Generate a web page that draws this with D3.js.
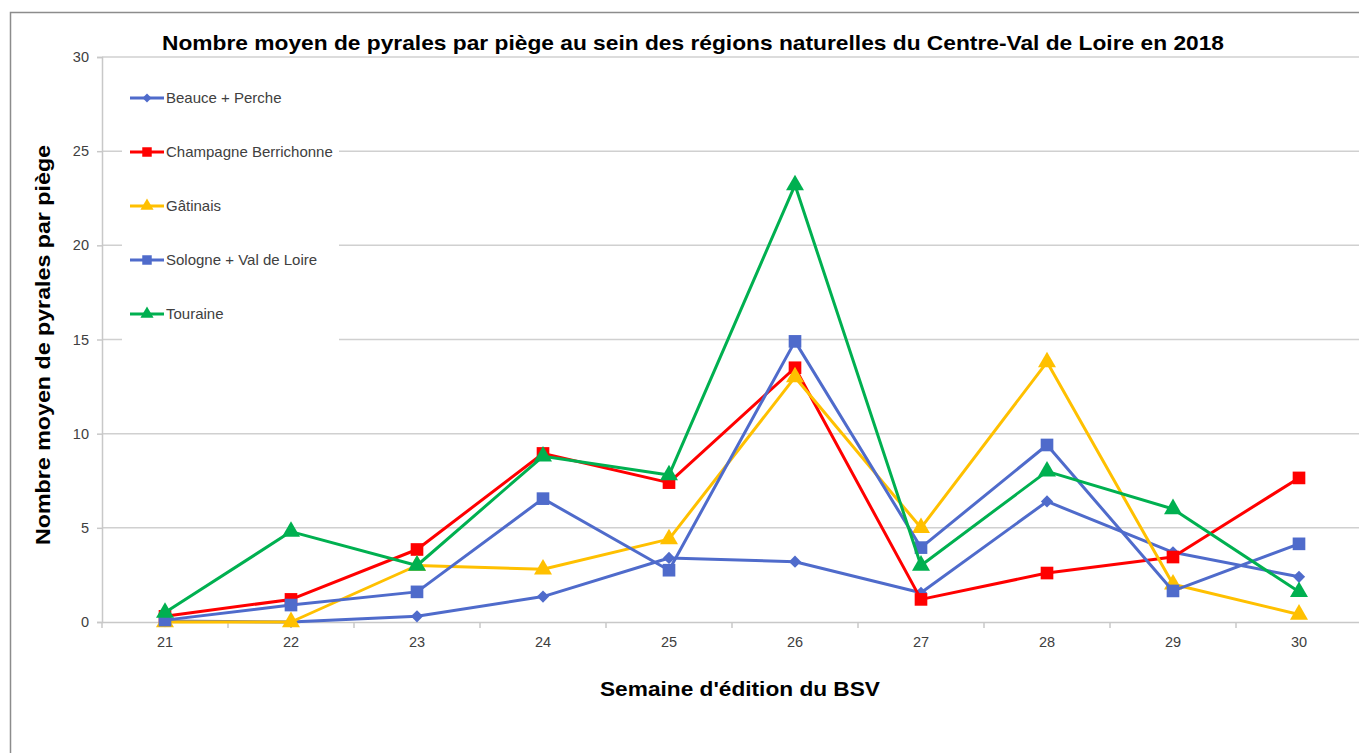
<!DOCTYPE html>
<html>
<head>
<meta charset="utf-8">
<script src="https://cdn.jsdelivr.net/npm/d3@7"></script>
<style>
  html, body { margin: 0; padding: 0; background: #fff; }
  svg { display: block; }
</style>
</head>
<body>
<svg id="chart" width="1359" height="753"></svg>
<script>
const weeks = ["21", "22", "23", "24", "25", "26", "27", "28", "29", "30"];
const beaucePerche = [0.05, 0.0, 0.3, 1.35, 3.4, 3.2, 1.55, 6.4, 3.7, 2.4];
const champagneBerrichonne = [0.3, 1.2, 3.85, 8.95, 7.4, 13.5, 1.2, 2.6, 3.45, 7.65];
const gatinais = [0.0, 0.0, 3.0, 2.8, 4.4, 13.0, 5.0, 13.8, 2.0, 0.4];
const sologneValDeLoire = [0.1, 0.9, 1.6, 6.55, 2.75, 14.9, 3.95, 9.4, 1.65, 4.15];
const touraine = [0.5, 4.8, 3.0, 8.8, 7.8, 23.2, 3.0, 8.0, 6.0, 1.6];
const yTicks = [0, 5, 10, 15, 20, 25, 30];
const seriesNames = ["Beauce + Perche", "Champagne Berrichonne", "Gâtinais", "Sologne + Val de Loire", "Touraine"];

const titleText = "Nombre moyen de pyrales par piège au sein des régions naturelles du Centre-Val de Loire en 2018";
const yLabelText = "Nombre moyen de pyrales par piège";
const xLabelText = "Semaine d'édition du BSV";

(function () {
const series = [
  { name: seriesNames[0], values: beaucePerche, color: "#4F6BCB", symbol: d3.symbolSquare, rot: 45, size: 75, lsize: 40 },
  { name: seriesNames[1], values: champagneBerrichonne, color: "#FF0000", symbol: d3.symbolSquare, rot: 0, size: 160, lsize: 90 },
  { name: seriesNames[2], values: gatinais, color: "#FFC000", symbol: d3.symbolTriangle, rot: 0, size: 140, lsize: 75 },
  { name: seriesNames[3], values: sologneValDeLoire, color: "#4F6BCB", symbol: d3.symbolSquare, rot: 0, size: 160, lsize: 90 },
  { name: seriesNames[4], values: touraine, color: "#00B050", symbol: d3.symbolTriangle, rot: 0, size: 140, lsize: 75 }
];

const svg = d3.select("#chart");
const font = "'Liberation Sans', Arial, sans-serif";

// outer chart border
svg.append("rect")
  .attr("x", 10.5).attr("y", 12.5)
  .attr("width", 1400).attr("height", 800)
  .attr("fill", "#fff")
  .attr("stroke", "#8C8C8C").attr("stroke-width", 1.5);

const pLeft = 102, pRight = 1362, pTop = 57, pBottom = 622;

const x = d3.scaleBand().domain(weeks).range([pLeft, pRight]).paddingInner(0).paddingOuter(0);
const cx = d => x(d) + x.bandwidth() / 2;
const y = d3.scaleLinear().domain([0, 30]).range([pBottom, pTop]);

// gridlines
svg.append("g").selectAll("line")
  .data(yTicks.filter(t => t > 0))
  .join("line")
  .attr("x1", pLeft).attr("x2", pRight)
  .attr("y1", d => y(d)).attr("y2", d => y(d))
  .attr("stroke", "#D0D0D0").attr("stroke-width", 1.5);

// y axis
const yAxis = svg.append("g")
  .attr("transform", `translate(${pLeft},0)`)
  .call(d3.axisLeft(y).tickValues(yTicks).tickSize(5).tickPadding(8));
yAxis.select(".domain").attr("stroke", "#C8C8C8").attr("stroke-width", 1.5);
yAxis.selectAll(".tick line").attr("stroke", "#C8C8C8").attr("stroke-width", 1.5);
yAxis.selectAll(".tick text")
  .attr("font-family", font).attr("font-size", 14.5).attr("fill", "#404040");

// x axis
const xAxis = svg.append("g")
  .attr("transform", `translate(0,${pBottom})`)
  .call(d3.axisBottom(x).tickSize(0).tickPadding(15));
xAxis.select(".domain").attr("stroke", "#C8C8C8").attr("stroke-width", 1.5);
xAxis.selectAll(".tick text")
  .attr("font-family", font).attr("font-size", 14.5).attr("fill", "#404040");
// boundary tick marks
svg.append("g").selectAll("line")
  .data(weeks.map(w => x(w)).concat([pRight]))
  .join("line")
  .attr("x1", d => d).attr("x2", d => d)
  .attr("y1", pBottom).attr("y2", pBottom + 6)
  .attr("stroke", "#C8C8C8").attr("stroke-width", 1.5);

// legend background (covers gridlines)
const legendG = svg.append("g");
legendG.append("rect")
  .attr("x", 122).attr("y", 68).attr("width", 217).attr("height", 276)
  .attr("fill", "#fff");

// series lines and markers
const line = d3.line().x((d, i) => cx(weeks[i])).y(d => y(d));
series.forEach(s => {
  const g = svg.append("g");
  g.append("path")
    .attr("d", line(s.values))
    .attr("fill", "none")
    .attr("stroke", s.color).attr("stroke-width", 3)
    .attr("stroke-linejoin", "round");
  g.selectAll("path.m")
    .data(s.values)
    .join("path")
    .attr("class", "m")
    .attr("transform", (d, i) => `translate(${cx(weeks[i])},${y(d)}) rotate(${s.rot})`)
    .attr("d", d3.symbol().type(s.symbol).size(s.size))
    .attr("fill", s.color);
});

// legend entries
const legendY = [98, 152, 206, 260, 314];
series.forEach((s, i) => {
  const ly = legendY[i];
  legendG.append("line")
    .attr("x1", 130).attr("x2", 164)
    .attr("y1", ly).attr("y2", ly)
    .attr("stroke", s.color).attr("stroke-width", 3);
  legendG.append("path")
    .attr("transform", `translate(147,${ly}) rotate(${s.rot})`)
    .attr("d", d3.symbol().type(s.symbol).size(s.lsize))
    .attr("fill", s.color);
  legendG.append("text")
    .attr("x", 166).attr("y", ly + 5)
    .attr("font-family", font).attr("font-size", 15)
    .attr("fill", "#404040")
    .text(s.name);
});

// title
svg.append("text")
  .attr("x", 693).attr("y", 50)
  .attr("text-anchor", "middle")
  .attr("font-family", font).attr("font-size", 21).attr("font-weight", "bold")
  .attr("fill", "#000")
  .attr("textLength", 1062).attr("lengthAdjust", "spacingAndGlyphs")
  .text(titleText);

// y label
svg.append("text")
  .attr("transform", "translate(50,345) rotate(-90)")
  .attr("text-anchor", "middle")
  .attr("font-family", font).attr("font-size", 21).attr("font-weight", "bold")
  .attr("fill", "#000")
  .attr("textLength", 400).attr("lengthAdjust", "spacingAndGlyphs")
  .text(yLabelText);

// x label
svg.append("text")
  .attr("x", 740).attr("y", 696)
  .attr("text-anchor", "middle")
  .attr("font-family", font).attr("font-size", 21).attr("font-weight", "bold")
  .attr("fill", "#000")
  .attr("textLength", 280).attr("lengthAdjust", "spacingAndGlyphs")
  .text(xLabelText);
})();
</script>
</body>
</html>
